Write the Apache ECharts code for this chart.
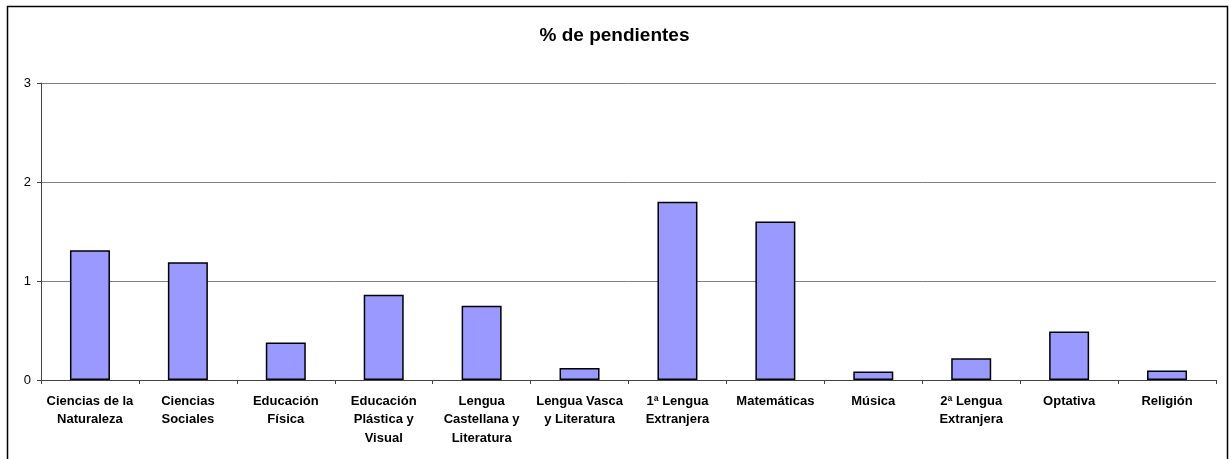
<!DOCTYPE html>
<html>
<head>
<meta charset="utf-8">
<script src="https://cdn.jsdelivr.net/npm/echarts@6/dist/echarts.min.js"></script>
<style>
  html, body { margin: 0; padding: 0; background: #fff; }
  #chart { width: 1229px; height: 459px; }
</style>
</head>
<body>
<div id="chart"></div>
<script>
// categorias (con saltos de linea como en el original)
var categorias = [
  'Ciencias de la\nNaturaleza',
  'Ciencias\nSociales',
  'Educación\nFísica',
  'Educación\nPlástica y\nVisual',
  'Lengua\nCastellana y\nLiteratura',
  'Lengua Vasca\ny Literatura',
  '1ª Lengua\nExtranjera',
  'Matemáticas',
  'Música',
  '2ª Lengua\nExtranjera',
  'Optativa',
  'Religión'
];
var pendientes = [1.31, 1.19, 0.38, 0.86, 0.75, 0.12, 1.80, 1.60, 0.085, 0.22, 0.49, 0.095];
var titulo = '% de pendientes';

var chart = echarts.init(document.getElementById('chart'));
chart.setOption({
  animation: false,
  backgroundColor: '#fff',
  textStyle: { fontFamily: 'Liberation Sans, Arial, sans-serif' },
  title: {
    text: titulo,
    left: 'center',
    top: 21,
    textStyle: { fontSize: 19, fontWeight: 'bold', color: '#000' }
  },
  graphic: [{
    type: 'rect',
    shape: { x: 7.5, y: 6.5, width: 1220, height: 470 },
    style: { fill: 'none', stroke: '#000', lineWidth: 1.5 },
    silent: true
  }],
  grid: { left: 41, right: 13, top: 83, bottom: 79 },
  xAxis: {
    type: 'category',
    data: categorias,
    axisLine: { lineStyle: { color: '#444', width: 1 } },
    axisTick: { show: true, length: 4, lineStyle: { color: '#444' } },
    axisLabel: {
      interval: 0,
      color: '#000',
      fontWeight: 'bold',
      fontSize: 13,
      lineHeight: 18.5,
      margin: 12
    }
  },
  yAxis: {
    type: 'value',
    min: 0,
    max: 3,
    interval: 1,
    axisLine: { show: true, lineStyle: { color: '#444', width: 1 } },
    axisTick: { show: true, length: 4, lineStyle: { color: '#444' } },
    axisLabel: { color: '#000', fontSize: 13, margin: 10 },
    splitLine: { show: true, lineStyle: { color: '#7f7f7f', width: 1 } }
  },
  series: [{
    type: 'bar',
    data: pendientes,
    barWidth: 40,
    itemStyle: { color: '#9999ff', borderColor: '#000', borderWidth: 1.5 }
  }]
});
</script>
</body>
</html>
